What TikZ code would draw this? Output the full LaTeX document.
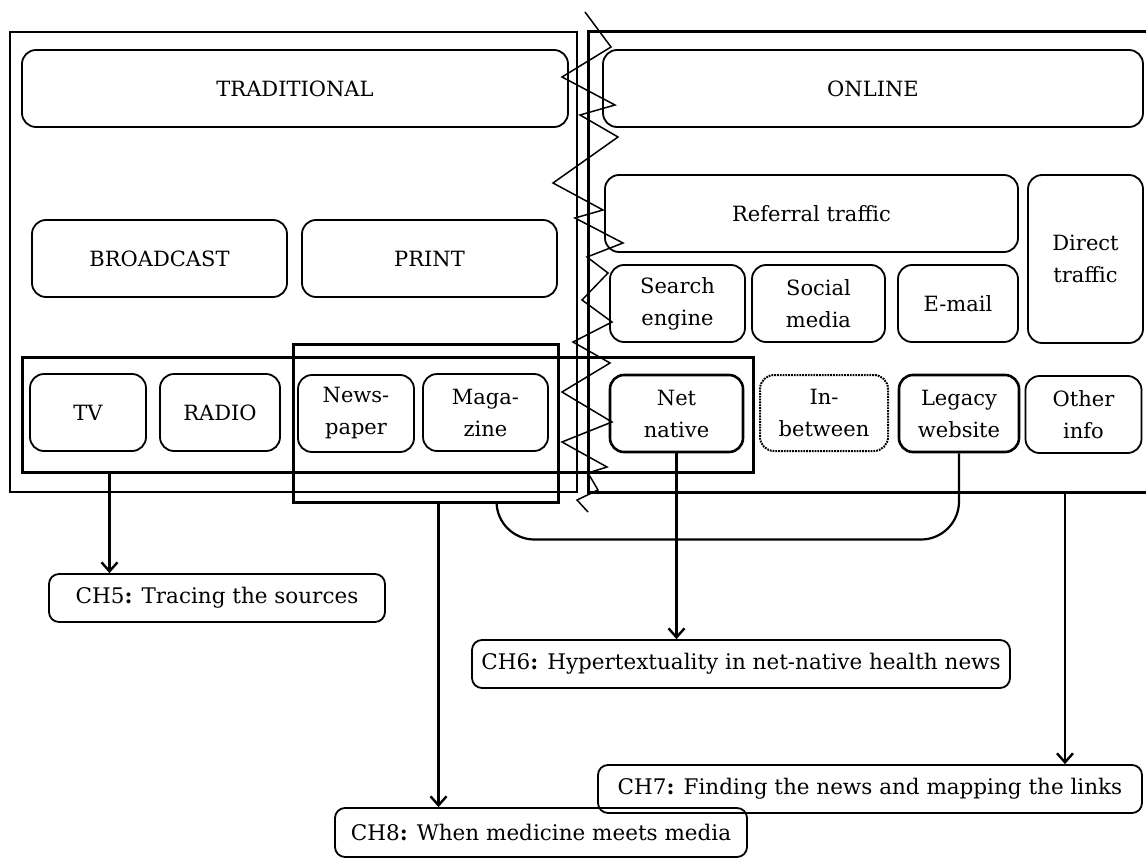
\documentclass[tikz,border=0pt]{standalone}
\usepackage{fontspec}
\setmainfont{DejaVu Serif}
\usetikzlibrary{arrows.meta}
\begin{document}
\begin{tikzpicture}[x=1pt,y=-1pt,
  box/.style={draw, rounded corners=14pt, line width=1.8pt, inner sep=2pt, align=center,
    font=\fontsize{21}{32}\selectfont},
  thickbox/.style={box, line width=2.6pt},
  dotbox/.style={box, densely dotted, line width=2pt},
  chbox/.style={draw, rounded corners=10pt, line width=1.8pt, inner sep=2pt,
    font=\fontsize{21.5}{25}\selectfont},
  frame/.style={draw, line width=2pt, inner sep=0pt},
  bigframe/.style={draw, line width=3pt, inner sep=0pt},
  sz/.style 2 args={minimum width=#1pt, minimum height=#2pt},
  arr/.style={line width=2.4pt, -{Straight Barb[length=9pt,width=16pt]}},
  zig/.style={line width=1.5pt, line join=miter}
]
\useasboundingbox (0,0) rectangle (1146,859);
% frames
\node[frame, sz={567}{460}] (tradframe) at (293.5,262) {};
\draw[line width=3pt] (1150,32) -- (588,32) -- (588,492) -- (1150,492);
\coordinate (onlinebottom) at (1065,492);
\node[bigframe, sz={731}{115}] (rowframe) at (387.5,414.5) {};
\node[bigframe, sz={265}{158}] (printframe) at (425.5,423) {};
% top boxes
\node[box, sz={546}{77}] (trad) at (295,88.5) {TRADITIONAL};
\node[box, sz={540}{77}] (online) at (873,88.5) {ONLINE};
% second level
\node[box, sz={255}{77}] (broad) at (159.5,258.5) {BROADCAST};
\node[box, sz={255}{77}] (print) at (429.5,258.5) {PRINT};
\node[box, sz={413}{77}] (referral) at (811.5,213.5) {Referral traffic};
\node[box, sz={115}{168}] (direct) at (1085.5,259) {Direct\\traffic};
\node[box, sz={135}{77}] (search) at (677.5,303.5) {Search\\engine};
\node[box, sz={133}{77}] (social) at (818.5,303.5) {Social\\media};
\node[box, sz={120}{77}] (email) at (958,303.5) {E-mail};
% bottom row
\node[box, sz={116}{77}] (tv) at (88,412.5) {TV};
\node[box, sz={120}{77}] (radio) at (220,412.5) {RADIO};
\node[box, sz={116}{77}] (newspaper) at (356,413.5) {News-\\paper};
\node[box, sz={125}{77}] (magazine) at (485.5,412.5) {Maga-\\zine};
\node[thickbox, sz={133}{77}] (netnative) at (676.5,413.5) {Net\\native};
\node[dotbox, sz={128}{76}] (inbetween) at (824,413) {In-\\between};
\node[thickbox, sz={120}{77}] (legacy) at (959,413.5) {Legacy\\website};
\node[box, sz={116}{77}] (other) at (1083.5,414.5) {Other\\info};
% chapter boxes
\node[chbox, sz={336}{48}] (ch5) at (217,598) {CH5\textbf{:} Tracing the sources};
\node[chbox, sz={538}{48}] (ch6) at (741,664) {CH6\textbf{:} Hypertextuality in net-native health news};
\node[chbox, sz={544}{48}] (ch7) at (870,789) {CH7\textbf{:} Finding the news and mapping the links};
\node[chbox, sz={412}{49}] (ch8) at (541,832.5) {CH8\textbf{:} When medicine meets media};
% bracket joining print and legacy
\coordinate (brstart) at ([xshift=205pt]printframe.south west);
\coordinate (brlow) at ([yshift=-36pt]brstart);
\draw[line width=2.2pt, rounded corners=38pt]
  (brstart) -- (brlow) -- (legacy.south |- brlow) -- (legacy.south);
% arrows
\coordinate (ch5src) at ([xshift=89pt]rowframe.south west);
\coordinate (ch8src) at ([xshift=147pt]printframe.south west);
\draw[arr] (ch5src) -- (ch5src |- ch5.north);
\draw[arr] (ch8src) -- (ch8src |- ch8.north);
\draw[arr] (netnative.south) -- (netnative.south |- ch6.north);
\draw[arr] (onlinebottom) -- (onlinebottom |- ch7.north);
% zigzag break line
\draw[zig] (585,12) -- (611,47) -- (562,77) -- (615,105) -- (580,115) -- (618,137)
  -- (553,183) -- (603,210) -- (575,218) -- (623,243) -- (587,257) -- (608,273)
  -- (582,300) -- (612,322) -- (573,342) -- (610,363) -- (562,392) -- (612,422)
  -- (562,442) -- (607,467) -- (588,473) -- (598,490) -- (577,500) -- (588,512);
\end{tikzpicture}
\end{document}
